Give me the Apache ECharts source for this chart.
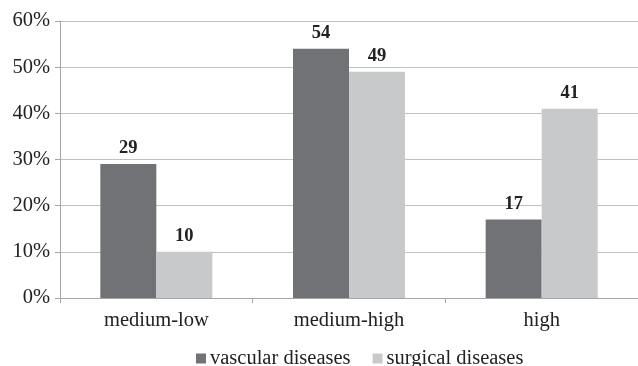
<!DOCTYPE html>
<html><head><meta charset="utf-8">
<script src="https://cdn.jsdelivr.net/npm/echarts@6/dist/echarts.min.js"></script>
<style>html,body{margin:0;padding:0;background:#fff}#c{width:638px;height:366px}</style>
</head><body><div id="c"></div>
<script>
const categories = ['medium-low', 'medium-high', 'high'];
const vascular = [29, 54, 17];
const surgical = [10, 49, 41];
const yTicks = [0, 10, 20, 30, 40, 50, 60];

const font = '"Liberation Serif", "Times New Roman", serif';
const chart = echarts.init(document.getElementById('c'));
chart.setOption({
  animation: false,
  textStyle: { fontFamily: font },
  grid: { left: 60, top: 21, width: 582, bottom: 68, containLabel: false },
  legend: {
    top: 343, left: 191, icon: 'rect', itemWidth: 10, itemHeight: 10, itemGap: 22,
    textStyle: { fontFamily: font, fontSize: 20.5, color: '#222', padding: [0, 0, 0, -1] },
    data: ['vascular diseases', 'surgical diseases']
  },
  xAxis: {
    type: 'category', data: categories,
    axisLine: { lineStyle: { color: '#a6a6a6' } },
    axisTick: { show: true, length: 5, lineStyle: { color: '#a6a6a6' } },
    axisLabel: { fontFamily: font, fontSize: 20.5, color: '#222', margin: 12 }
  },
  yAxis: {
    type: 'value', min: yTicks[0], max: yTicks[yTicks.length - 1], interval: 10,
    axisLine: { show: true, lineStyle: { color: '#a6a6a6' } },
    axisTick: { show: true, length: 5, lineStyle: { color: '#a6a6a6' } },
    splitLine: { lineStyle: { color: '#c0c0c0' } },
    axisLabel: { fontFamily: font, fontSize: 20.5, color: '#222', margin: 10, formatter: '{value}%' }
  },
  series: [
    { name: 'vascular diseases', type: 'bar', data: vascular, barWidth: 56, barGap: '0%',
      itemStyle: { color: '#717275' },
      label: { show: true, position: 'top', distance: 6, fontFamily: font, fontWeight: 'bold', fontSize: 18.5, color: '#222' } },
    { name: 'surgical diseases', type: 'bar', data: surgical, barWidth: 56, barGap: '0%',
      itemStyle: { color: '#c8c9cb' },
      label: { show: true, position: 'top', distance: 6, fontFamily: font, fontWeight: 'bold', fontSize: 18.5, color: '#222' } }
  ]
});
</script></body></html>
